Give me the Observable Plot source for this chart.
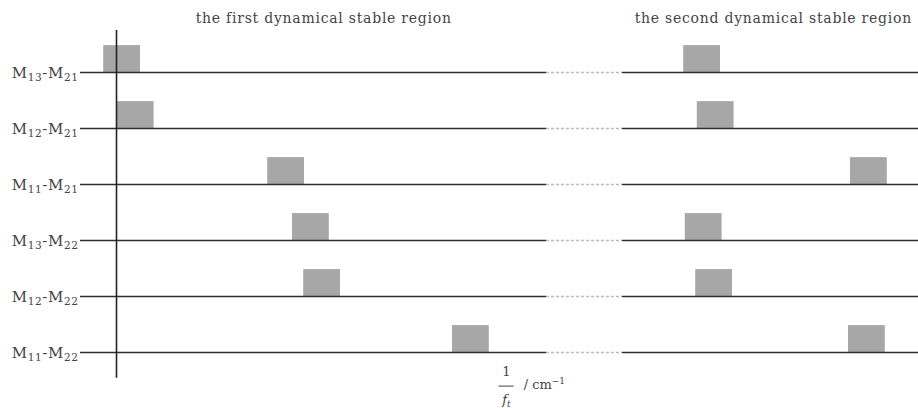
<!DOCTYPE html>
<html>
<head>
<meta charset="utf-8">
<script src="https://cdn.jsdelivr.net/npm/d3@7"></script>
<script src="https://cdn.jsdelivr.net/npm/@observablehq/plot@0.6"></script>
<style>
  html, body { margin: 0; padding: 0; background: #fff; }
  #chart svg { display: block; }
</style>
</head>
<body>
<div id="chart"></div>
<script>
// ---- data ----
const pairs = ["M13-M21", "M12-M21", "M11-M21", "M13-M22", "M12-M22", "M11-M22"];
// start of the stable window (1/f_t, arbitrary units) in each region
const firstRegionStart  = [-1.6, 0.1, 18.9, 22.0, 23.4, 42.0];
const secondRegionStart = [70.9, 72.6, 91.75, 71.1, 72.4, 91.5];
const windowWidth = 4.6;
const regionTitles = ["the first dynamical stable region", "the second dynamical stable region"];
const regionTitleCenters = [25.9, 82.1];
// axis extents and the break in the 1/f_t axis
const axisStart = -4.5, breakStart = 53.75, breakEnd = 63.25, axisEnd = 100.25;

// ---- tables built from the arrays ----
const rows = pairs.map((p, i) => ({pair: p, row: i}));
const windows = [];
pairs.forEach((p, i) => {
  windows.push({pair: p, row: i, x1: firstRegionStart[i], x2: firstRegionStart[i] + windowWidth});
  windows.push({pair: p, row: i, x1: secondRegionStart[i], x2: secondRegionStart[i] + windowWidth});
});
const titles = regionTitles.map((t, i) => ({text: t, x: regionTitleCenters[i]}));

const boxH = 0.48;
const lineColor = "#2e2e2e";
const textColor = "#444";
const font = "'DejaVu Serif', 'Liberation Serif', serif";

const chart = Plot.plot({
  width: 918,
  height: 408,
  margin: 0,
  x: {domain: [0, 100.25], range: [116, 918], axis: null},
  y: {domain: [0, 5], range: [72, 352], axis: null},
  style: {fontFamily: font, background: "#fff"},
  marks: [
    Plot.rect(windows, {x1: "x1", x2: "x2", y1: d => d.row - boxH, y2: "row", fill: "#a7a7a7"}),
    Plot.ruleY(rows, {y: "row", x1: axisStart, x2: breakStart, stroke: lineColor, strokeWidth: 1.6}),
    Plot.ruleY(rows, {y: "row", x1: breakStart, x2: breakEnd, stroke: "#bdbdbd", strokeWidth: 1.4, strokeDasharray: "3,2"}),
    Plot.ruleY(rows, {y: "row", x1: breakEnd, x2: axisEnd, stroke: lineColor, strokeWidth: 1.6}),
    Plot.ruleX([0], {x: d => d, y1: -0.75, y2: 5.46, stroke: "#222", strokeWidth: 1.6}),
    Plot.text(titles, {x: "x", y: -0.96, text: "text", fontSize: 14, fill: textColor}),
    Plot.text(rows, {x: axisStart, y: "row", text: "pair", textAnchor: "end", dx: -2, dy: 1, fontSize: 15, fill: textColor}),
    // x-axis label: fraction 1 / f_t  followed by "/ cm^-1"
    Plot.text(["1"], {x: 48.75, y: 5.34, text: d => d, fontSize: 13, fill: textColor}),
    Plot.ruleY([5.6], {y: d => d, x1: 47.8, x2: 49.7, stroke: textColor, strokeWidth: 1}),
    Plot.text(["f_t"], {x: 48.75, y: 5.84, text: d => d, fontSize: 13, fill: textColor}),
    Plot.text(["/ cm^-1"], {x: 50.9, y: 5.58, text: d => d, textAnchor: "start", fontSize: 13, fill: textColor})
  ]
});
document.getElementById("chart").appendChild(chart);

// ---- rich text: subscripts / superscripts, letter spacing ----
d3.select(chart).selectAll("text").each(function() {
  const t = this.textContent;
  const sel = d3.select(this);
  let m = /^M(\d\d)-M(\d\d)$/.exec(t);
  if (m) {
    sel.text(null).attr("letter-spacing", 0.6);
    sel.append("tspan").text("M");
    sel.append("tspan").attr("dy", 3).attr("font-size", 10.5).text(m[1]);
    sel.append("tspan").attr("dy", -3).text("-M");
    sel.append("tspan").attr("dy", 3).attr("font-size", 10.5).text(m[2]);
  } else if (t === "f_t") {
    sel.text(null);
    sel.append("tspan").attr("font-style", "italic").text("f");
    sel.append("tspan").attr("dy", 3).attr("font-size", 9).attr("font-style", "italic").text("t");
  } else if (t === "/ cm^-1") {
    sel.text(null);
    sel.append("tspan").text("/ cm");
    sel.append("tspan").attr("dy", -5).attr("font-size", 9).text("−1");
  } else if (regionTitles.includes(t)) {
    sel.attr("letter-spacing", 0.75);
  }
});
</script>
</body>
</html>
